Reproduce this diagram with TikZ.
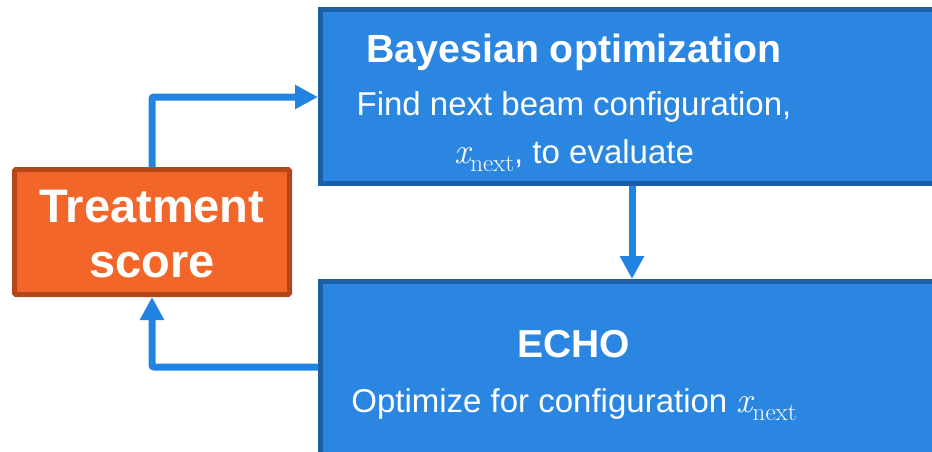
\documentclass[tikz,border=0pt]{standalone}
\usepackage{fontspec}
\setmainfont{Liberation Sans}
\newfontfamily\lmr{Latin Modern Roman}
\usetikzlibrary{arrows.meta}
\definecolor{bfill}{HTML}{2A86E1}
\definecolor{bdraw}{HTML}{1D5FA6}
\definecolor{ofill}{HTML}{F2662A}
\definecolor{odraw}{HTML}{B4461B}
\definecolor{arrc}{HTML}{2383E2}
\newcommand{\xnxt}{{\lmr\fontsize{36}{40}\selectfont\itshape x\raisebox{-8pt}{\fontsize{25}{30}\selectfont\upshape next}}}
\tikzset{
  bluebox/.style={draw=bdraw, fill=bfill, line width=5pt, rectangle, inner sep=0pt},
  orangebox/.style={draw=odraw, fill=ofill, line width=5pt, rectangle, rounded corners=1.5pt, inner sep=0pt},
  arr/.style={draw=arrc, line width=7pt, rounded corners=2pt, -{Triangle[length=23pt,width=23pt]}},
  titletxt/.style={anchor=base, text=white, font=\fontsize{39.3}{45}\selectfont\bfseries, inner sep=0pt},
  subtxt/.style={anchor=base, text=white, font=\fontsize{33}{40}\selectfont, inner sep=0pt},
  scoretxt/.style={anchor=base, text=white, font=\fontsize{47}{55}\selectfont\bfseries, inner sep=0pt},
}
\begin{document}
\begin{tikzpicture}[x=1pt,y=1pt]
\useasboundingbox (0,0) rectangle (932,-452);
\clip (0,0) rectangle (932,-452);
% boxes
\node[bluebox, minimum width=624.5pt, minimum height=173.5pt] (bo) at (632.75,-96.75) {};
\node[bluebox, minimum width=624.5pt, minimum height=178.5pt] (echo) at (632.75,-370.75) {};
\node[orangebox, minimum width=275pt, minimum height=125pt] (ts) at (152,-232) {};
% texts
\node[titletxt] (botitle) at (574,-63) {Bayesian optimization};
\node[subtxt] (bol1) at (574,-115) {Find next beam configuration,};
\node[subtxt] (bol2) at (574,-163) {\xnxt, to evaluate};
\node[titletxt, font=\fontsize{39}{45}\selectfont\bfseries] (echotitle) at (574,-357) {ECHO};
\node[subtxt] (echol1) at (574,-412) {Optimize for configuration \xnxt};
\node[scoretxt] (ts1) at (152,-222) {Treatment};
\node[scoretxt] (ts2) at (152,-277) {score};
% connectors
\draw[arr] (ts.north) |- (bo.west |- 0,-97);
\draw[arr] (bo.south -| 632,0) -- (echo.north -| 632,0);
\draw[arr] (echo.west |- 0,-367) -| (ts.south);
\end{tikzpicture}
\end{document}
